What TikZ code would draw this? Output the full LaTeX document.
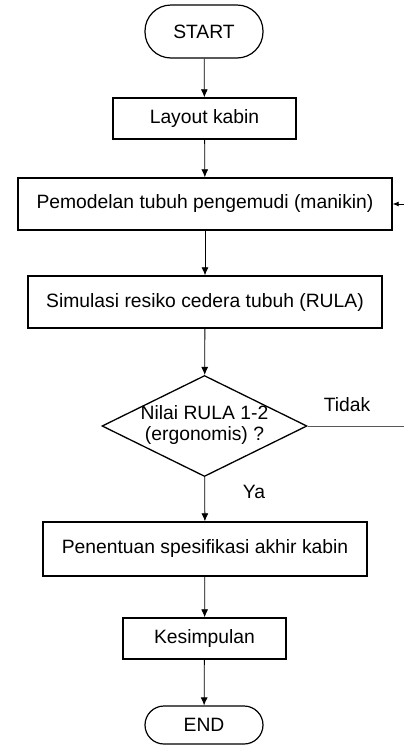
\documentclass[tikz,border=0pt]{standalone}
\usepackage{fontspec}
\setmainfont{Liberation Sans}
\usetikzlibrary{shapes.geometric,arrows.meta}

\begin{document}
\begin{tikzpicture}[x=1pt, y=-1pt,
        font=\fontsize{19.3}{21}\selectfont,
        boite/.style={draw, line width=1.4pt, inner sep=0pt},
        terminal/.style={draw, line width=1.2pt, rounded corners=19pt, minimum width=118pt, inner sep=0pt},
        decision/.style={draw, diamond, line width=1.3pt, inner sep=0pt, minimum width=205pt, minimum height=101pt, align=center},
        fleche/.style={-{Latex[length=8pt,width=7pt]}, line width=0.8pt}]

        \useasboundingbox (0,0) rectangle (404,745);

        % Les blocs du diagramme
        \node[terminal, minimum height=53pt, rounded corners=26pt] (start) at (204,31.5) {START};
        \node[boite, minimum width=183pt, minimum height=41pt] (layout) at (204.5,118.5) {Layout kabin};
        \node[boite, minimum width=374pt, minimum height=52pt] (model) at (205,204) {Pemodelan tubuh pengemudi (manikin)};
        \node[boite, minimum width=354pt, minimum height=52pt] (simul) at (205,302) {Simulasi resiko cedera tubuh (RULA)};
        \node[decision] (rula) at (204.5,426) {};
        \node (rulatxt) at (204.5,425) [align=center] {Nilai RULA 1-2\\(ergonomis) ?};
        \node[boite, minimum width=324pt, minimum height=54pt] (spec) at (205,549) {Penentuan spesifikasi akhir kabin};
        \node[boite, minimum width=163pt, minimum height=41pt] (kesim) at (204.5,638.5) {Kesimpulan};
        \node[terminal, minimum height=38pt] (end) at (204,725) {END};

        % Les libellés
        \node (tidak) at (347,405) {Tidak};
        \node (ya) at (254,492) {Ya};

        % Les bouts libres au bord droit
        \coordinate (retour) at (404,204);
        \coordinate (sortie) at (404,426);

        % Les flèches
        \draw[fleche] (start) -- (layout);
        \draw[fleche] (layout) -- (model);
        \draw[fleche] (model) -- (simul);
        \draw[fleche] (simul) -- (rula);
        \draw[fleche] (rula) -- (spec);
        \draw[fleche] (spec) -- (kesim);
        \draw[fleche] (kesim) -- (end);
        \draw[gray!70!black, line width=0.8pt] (rula.east) -- (sortie);
        \draw[fleche, -{Latex[length=6pt,width=5pt]}] (retour) -- (model.east);

\end{tikzpicture}
\end{document}
